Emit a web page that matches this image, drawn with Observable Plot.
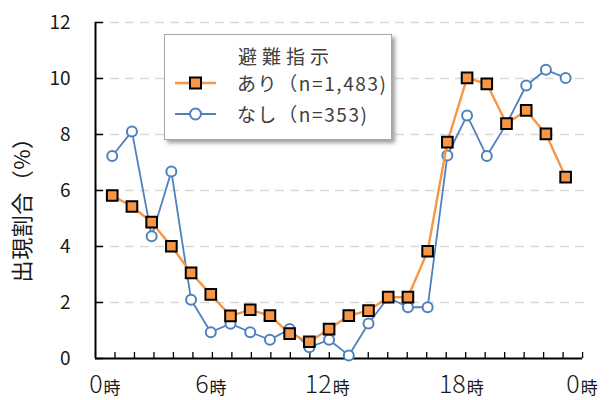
<!DOCTYPE html>
<html lang="ja">
<head>
<meta charset="utf-8">
<script src="https://cdn.jsdelivr.net/npm/d3@7"></script>
<script src="https://cdn.jsdelivr.net/npm/@observablehq/plot@0.6"></script>
<style>
  html, body { margin: 0; padding: 0; background: #fff; }
  #wrap { position: relative; width: 609px; height: 400px; font-family: "Noto Sans CJK JP", "Noto Sans", sans-serif; }
  #legend {
    position: absolute; left: 164px; top: 34px; width: 228px; height: 106px;
    box-sizing: border-box; background: #fff; border: 1px solid #a6a6a6;
    box-shadow: 3px 3px 4px rgba(0,0,0,0.38);
    color: #404040;
  }
  #legend .title { position: absolute; left: 73px; top: 9px; font-size: 19px; letter-spacing: 5px; line-height: 24px; }
  #legend .row { position: absolute; left: 10px; height: 24px; display: flex; align-items: center; }
  #legend .row span { margin-left: 20px; font-size: 19px; letter-spacing: 1.6px; line-height: 24px; white-space: nowrap; }
</style>
</head>
<body>
<div id="wrap"></div>
<script>
// Hour of day (0–23) and the share (%) of records in each hour
const hours = [0, 1, 2, 3, 4, 5, 6, 7, 8, 9, 10, 11, 12, 13, 14, 15, 16, 17, 18, 19, 20, 21, 22, 23];
const withOrder = [5.82, 5.43, 4.87, 4.01, 3.06, 2.29, 1.52, 1.74, 1.53, 0.89, 0.60, 1.05,
                   1.53, 1.71, 2.19, 2.19, 3.83, 7.73, 10.02, 9.81, 8.39, 8.86, 8.02, 6.48];
const withoutOrder = [7.23, 8.11, 4.37, 6.68, 2.10, 0.94, 1.24, 0.94, 0.67, 1.05, 0.40, 0.67,
                      0.11, 1.25, 2.18, 1.83, 1.83, 7.25, 8.68, 7.23, 8.38, 9.75, 10.31, 10.02];
const seriesNames = ["あり（n=1,483)", "なし（n=353)"];
const legendTitle = "避難指示";
const yTicks = [0, 2, 4, 6, 8, 10, 12];
const xTickDigits = ["0", "6", "12", "18", "0"];
const xTickUnit = "時";
const yTitle = "出現割合（%）";

// Layout constants (axis units: hour i is drawn at i + 1)
const ORANGE = "#F79646", BLUE = "#4F81BD";
const X0 = 0.152, XGRID_END = 25.16, XAXIS_END = 24.86;
const PX_PER_X = (588 - 95) / (XGRID_END - X0);
const PX_PER_Y = (358 - 22) / 12;
const labelAt = [0.51, 5.89, 12.13, 18.93, 24.71];
const minorTicks = d3.range(1, 26).map(k => X0 + k * (XAXIS_END - X0) / 25);

const rows = hours.map((h, i) => ({pos: h + 1, a: withOrder[i], b: withoutOrder[i]}));
const xLabels = xTickDigits.map((t, i) => ({pos: labelAt[i], digit: t}));

const font = "Noto Sans CJK JP";

const chart = Plot.plot({
  width: 609,
  height: 400,
  marginLeft: 95,
  marginRight: 21,
  marginTop: 22,
  marginBottom: 42,
  style: {fontFamily: font, background: "#fff", color: "#262626", overflow: "visible"},
  x: {domain: [X0, XGRID_END], axis: null},
  y: {domain: [0, 12], axis: null},
  marks: [
    // dashed horizontal gridlines
    Plot.ruleY(yTicks.filter(d => d > 0), {x1: X0, x2: XGRID_END, stroke: "#d9d9d9", strokeWidth: 1.5, strokeDasharray: "9,6"}),
    // inward tick marks
    Plot.ruleY(yTicks, {x1: X0, x2: X0 + 8 / PX_PER_X, stroke: "#000", strokeWidth: 1.5}),
    Plot.ruleX(minorTicks, {y1: 0, y2: 6 / PX_PER_Y, stroke: "#000", strokeWidth: 1.3}),
    // axis lines
    Plot.ruleX([X0], {y1: 0, y2: 12, stroke: "#000", strokeWidth: 2}),
    Plot.ruleY([0], {x1: X0, x2: XAXIS_END, stroke: "#000", strokeWidth: 2}),
    // y tick labels
    Plot.text(yTicks, {x: X0, y: d => d, text: d => String(d), textAnchor: "end", dx: -25, fontSize: 19, fill: "#1a1a1a"}),
    // x tick labels: hour digit + 時
    Plot.text(xLabels, {x: "pos", y: 0, text: "digit", textAnchor: "end", lineAnchor: "bottom", dy: 34.5, fontSize: 25, fontWeight: 300, fill: "#1a1a1a"}),
    Plot.text(xLabels, {x: "pos", y: 0, text: () => xTickUnit, textAnchor: "start", lineAnchor: "bottom", dy: 35, dx: 1, fontSize: 17, fill: "#1a1a1a"}),
    // y axis title
    Plot.text([yTitle], {frameAnchor: "left", textAnchor: "middle", text: d => d, rotate: -90, dx: -73, dy: 14, fontSize: 22, fill: "#1a1a1a"}),
    // series without order
    Plot.line(rows, {x: "pos", y: "b", stroke: BLUE, strokeWidth: 1.8}),
    Plot.dot(rows, {x: "pos", y: "b", r: 5, fill: "#fff", stroke: BLUE, strokeWidth: 2}),
    // series with order
    Plot.line(rows, {x: "pos", y: "a", stroke: ORANGE, strokeWidth: 2.4}),
    Plot.dot(rows, {x: "pos", y: "a", symbol: "square", r: 6, fill: ORANGE, stroke: "#000", strokeWidth: 2})
  ]
});

const wrap = document.getElementById("wrap");
wrap.appendChild(chart);

// slight spacing for the axis title
chart.querySelectorAll("text").forEach(t => {
  if (t.textContent === yTitle) t.setAttribute("letter-spacing", "0.5");
});

// legend box
const legend = document.createElement("div");
legend.id = "legend";
const title = document.createElement("div");
title.className = "title";
title.textContent = legendTitle;
legend.appendChild(title);

function swatch(kind) {
  const ns = "http://www.w3.org/2000/svg";
  const svg = document.createElementNS(ns, "svg");
  svg.setAttribute("width", 42);
  svg.setAttribute("height", 24);
  const line = document.createElementNS(ns, "line");
  line.setAttribute("x1", 0); line.setAttribute("x2", 41);
  line.setAttribute("y1", 12); line.setAttribute("y2", 12);
  line.setAttribute("stroke", kind === "a" ? ORANGE : BLUE);
  line.setAttribute("stroke-width", kind === "a" ? 2.4 : 1.8);
  svg.appendChild(line);
  if (kind === "a") {
    const r = document.createElementNS(ns, "rect");
    r.setAttribute("x", 15); r.setAttribute("y", 6.5); r.setAttribute("width", 11); r.setAttribute("height", 11);
    r.setAttribute("fill", ORANGE); r.setAttribute("stroke", "#000"); r.setAttribute("stroke-width", 2);
    svg.appendChild(r);
  } else {
    const c = document.createElementNS(ns, "circle");
    c.setAttribute("cx", 20.5); c.setAttribute("cy", 12); c.setAttribute("r", 5.5);
    c.setAttribute("fill", "#fff"); c.setAttribute("stroke", BLUE); c.setAttribute("stroke-width", 2);
    svg.appendChild(c);
  }
  return svg;
}

["a", "b"].forEach((kind, i) => {
  const row = document.createElement("div");
  row.className = "row";
  row.style.top = (i === 0 ? 35.5 : 67) + "px";
  row.appendChild(swatch(kind));
  const s = document.createElement("span");
  s.textContent = seriesNames[i];
  row.appendChild(s);
  legend.appendChild(row);
});
wrap.appendChild(legend);
</script>
</body>
</html>
